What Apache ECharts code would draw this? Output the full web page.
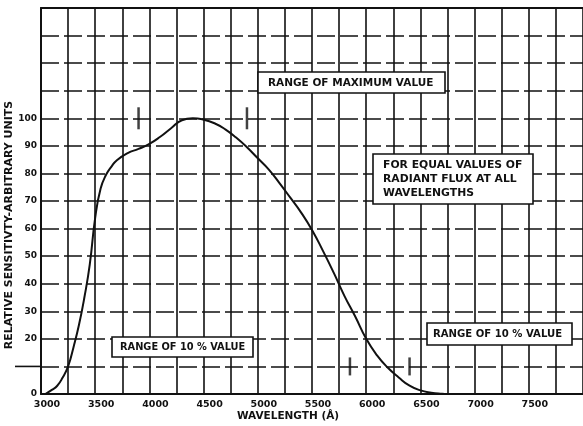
<!DOCTYPE html>
<html>
<head>
<meta charset="utf-8">
<script src="https://cdn.jsdelivr.net/npm/echarts@6/dist/echarts.min.js"></script>
<style>
html,body{margin:0;padding:0;background:#fff;}
#chart{width:583px;height:426px;}
</style>
</head>
<body>
<div id="chart"></div>
<script>
// ---- data ----
var wavelengths = [3040,3100,3150,3200,3250,3300,3350,3400,3450,3500,3550,3600,3650,3700,3800,3900,4000,4100,4200,4300,4400,4500,4600,4700,4800,4900,5000,5100,5200,5300,5400,5500,5600,5700,5800,5900,6000,6100,6200,6300,6400,6500,6600,6700,6750];
var sensitivity = [0,1.5,3,6,10,17,25,35,47,64,74.5,79.5,82.5,84.8,87.4,88.9,90.7,93.3,96.4,99.3,100,99.5,98.2,96,93,89.5,85.5,81.5,76.5,71.2,65.8,59.5,52,44,35.5,28,20,14,9.5,6,3,1.3,0.5,0.1,0];
var xTickLabels = [3000,3500,4000,4500,5000,5500,6000,6500,7000,7500];
var yTickLabels = [0,20,30,40,50,60,70,80,90,100];
var rangeMaxBounds = [3900, 4900];   // at value 100
var rangeTenBounds = [5850, 6400];   // at value 10
var rangeMaxLevel = 100;
var rangeTenLevel = 10;
var extendedGridValue = 10;          // grid line drawn past the y axis

var ink = '#111';
var FONT = 'DejaVu Sans';

var chart = echarts.init(document.getElementById('chart'), null, {renderer:'canvas'});

function box(x, y, w, h, lines, tx, ty, lh, sx) {
  var children = [{
    type:'rect', z:100, shape:{x:x, y:y, width:w, height:h},
    style:{fill:'#fff', stroke:ink, lineWidth:1.6}
  }];
  lines.forEach(function(t, i){
    children.push({
      type:'text', z:101, x:tx, y:ty + i*lh, scaleX:sx,
      style:{text:t, fill:ink, font:'bold 10px "' + FONT + '"', verticalAlign:'middle', textAlign:'left'}
    });
  });
  return {type:'group', z:100, children:children};
}

var option = {
  backgroundColor:'#fff',
  animation:false,
  grid:{left:41, right:0, top:8, bottom:32, containLabel:false, outerBoundsMode:'none'},
  xAxis:[{
    type:'value', min:3000, max:8000, interval:250,
    name:'WAVELENGTH (Å)', nameLocation:'middle', nameGap:17, nameMoveOverlap:false,
    nameTextStyle:{fontFamily:FONT, fontWeight:'bold', fontSize:10.5, color:ink, padding:[0,48,0,0], verticalAlign:'top'},
    axisLine:{show:true, lineStyle:{color:ink, width:2}},
    axisTick:{show:false},
    axisLabel:{customValues:xTickLabels, formatter:function(v){return String(v);}, fontFamily:FONT, fontWeight:'bold', fontSize:9.5, color:ink, margin:6, padding:[0,0,0,12]},
    splitLine:{show:true, lineStyle:{color:ink, width:1.6, type:'solid'}}
  },{
    type:'value', position:'top', min:3000, max:8000,
    axisLine:{show:true, lineStyle:{color:ink, width:2}},
    axisTick:{show:false}, axisLabel:{show:false}, splitLine:{show:false}
  }],
  yAxis:{
    type:'value', min:0, max:140, interval:10,
    name:'RELATIVE SENSITIVTY-ARBITRARY UNITS', nameLocation:'middle', nameGap:26, nameMoveOverlap:false,
    nameTextStyle:{fontFamily:FONT, fontWeight:'bold', fontSize:11, color:ink, padding:[0,48,0,0]},
    axisLine:{show:true, lineStyle:{color:ink, width:2}},
    axisTick:{show:false},
    axisLabel:{customValues:yTickLabels, formatter:function(v){return String(v);}, fontFamily:FONT, fontWeight:'bold', fontSize:9, color:ink, margin:4},
    splitLine:{show:true, lineStyle:{color:ink, width:1.6, type:[18,5]}}
  },
  series:[{
    type:'line',
    data:wavelengths.map(function(w,i){return [w, sensitivity[i]];}),
    smooth:0.5,
    showSymbol:false, symbol:'none',
    lineStyle:{color:ink, width:2},
    z:5
  },{
    type:'scatter',
    data:rangeMaxBounds.map(function(w){return [w, rangeMaxLevel];}),
    symbol:'rect', symbolSize:[2.5,22],
    itemStyle:{color:ink}, z:6
  },{
    type:'scatter',
    data:rangeTenBounds.map(function(w){return [w, rangeTenLevel];}),
    symbol:'rect', symbolSize:[2.5,18],
    itemStyle:{color:ink}, z:6
  }],
  graphic:[
    box(258, 72, 187, 21, ['RANGE OF MAXIMUM VALUE'], 268, 83, 0, 1.05),
    box(373, 154, 160, 50, ['FOR EQUAL VALUES OF','RADIANT FLUX AT ALL','WAVELENGTHS'], 383, 165, 14, 1.08),
    box(112, 337, 141, 20, ['RANGE OF 10 % VALUE'], 120, 347.5, 0, 0.98),
    box(427, 323, 145, 22, ['RANGE OF 10 % VALUE'], 433, 334, 0, 1.01)
  ]
};
chart.setOption(option);

// short extension of the 10-line to the left of the y axis
var p = chart.convertToPixel({gridIndex:0}, [3000, extendedGridValue]);
chart.setOption({graphic:[{
  id:'ext', type:'line', z:50,
  shape:{x1:p[0]-26, y1:p[1], x2:p[0], y2:p[1]},
  style:{stroke:ink, lineWidth:1.6}
}]});
</script>
</body>
</html>
